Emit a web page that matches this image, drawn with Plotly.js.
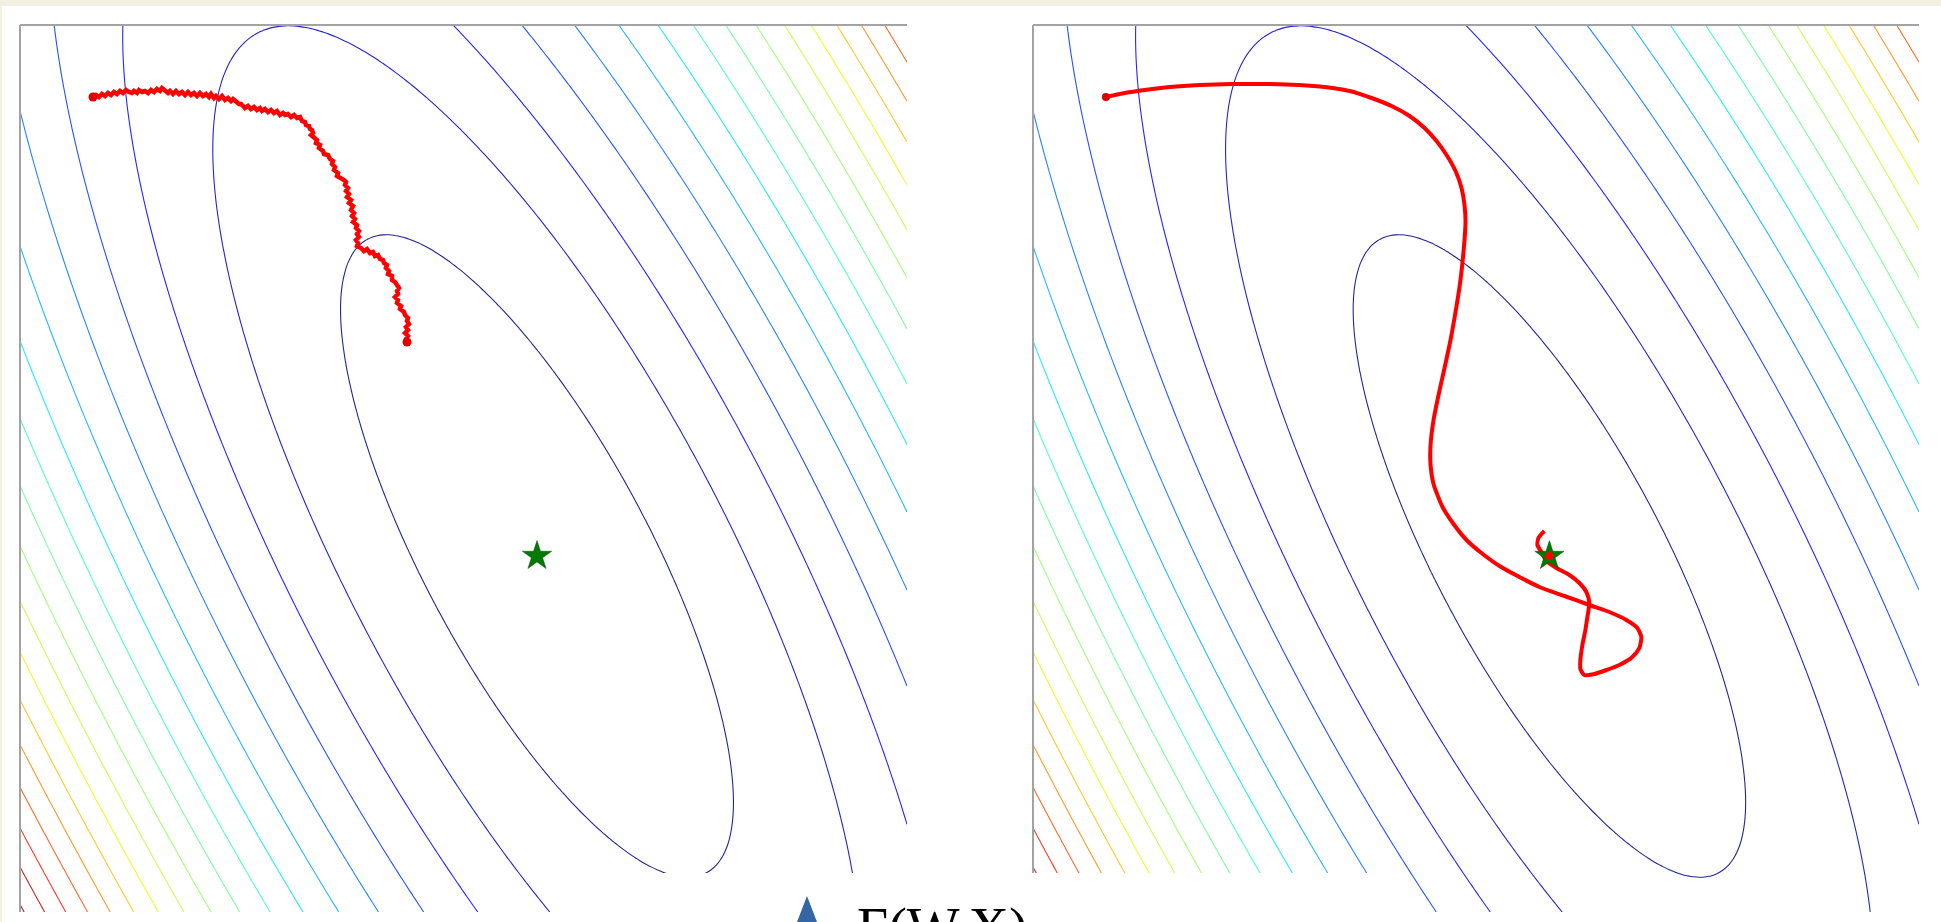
<!DOCTYPE html>
<html><head><meta charset="utf-8">
<script src="https://cdn.plot.ly/plotly-3.0.1.min.js"></script>
<style>html,body{margin:0;padding:0;background:#fff;overflow:hidden}#chart{width:1941px;height:922px}</style>
</head><body><div id="chart"></div>
<script>
// ---- data (units: pixels of one square panel, origin bottom-left) ----
var panelRange = [0, 887];
var surfaceCenter = [517, 356];              // minimum of the loss surface (green star)
var surfaceCurvature = [1.0, 0.469, 0.374];  // a, b, c  in  a*du^2 + 2*b*du*dv + c*dv^2
var levelStart = 15900;                      // innermost contour level
var levelStep = 27400;                       // spacing between contour levels
var levelCount = 18;                         // number of contour levels

// noisy (stochastic) descent path, left panel
var sgdX = [73,76,79,82,85,88,91,94,97,100,103,106,109,112,114,117,119,122,125,128,131,134,137,140,142,144,145,148,150,153,156,159,162,165,168,171,174,177,180,183,186,189,191,194,196,199,202,205,208,211,213,
  217,219,221,223,225,228,231,234,237,240,242,245,248,251,254,257,260,263,265,268,271,274,277,280,282,285,286,289,290,292,293,291,294,297,296,300,299,303,304,308,310,313,312,315,314,318,317,321,324,326,325,328,326,329,327,331,329,333,331,334,332,335,333,337,336,339,337,339,336,338,337,341,344,347,350,353,355,358,360,363,364,367,366,369,368,372,372,375,377,379,377,378,375,378,377,381,380,384,385,388,387,389,386,388,385,388,386,387];
var sgdY = [815,817,815,818,816,819,817,820,818,821,819,822,820,819,821,819,822,820,821,819,822,820,823,821,824,822,821,819,821,818,821,818,820,817,820,817,819,816,819,816,818,815,818,814,816,813,816,812,814,811,813,
  810,808,808,805,804,806,803,805,802,804,801,803,800,802,799,801,797,799,797,798,795,797,794,795,791,790,787,786,783,782,779,777,775,772,769,767,764,761,758,757,753,751,748,745,742,739,736,734,732,730,727,724,721,718,715,712,709,706,702,699,696,693,690,687,684,681,678,675,672,669,666,664,661,663,659,660,656,657,653,652,649,647,644,641,638,636,632,630,627,624,621,618,615,612,609,606,603,600,597,594,591,588,585,582,579,576,573,570];

// smooth (momentum) descent path, right panel
var momX = [73,92,112,137,167,199,232,266,292,317,339,359,377,392,404,414,423,429,432,433,432,430,427,423,418,412,406,401,398,398,401,410,421,434,449,467,487,507,532,557,577,594,605,609,607,600,587,574,562,552,548,548,550,553,555,557,554,547,537,524,514,509,505,506,509,512];
var momY = [815,819,822,825,827,828,828,827,825,821,814,806,796,784,771,757,741,724,707,690,672,650,625,600,572,544,517,492,467,447,428,405,388,372,359,346,335,325,316,307,300,292,284,275,264,255,247,242,238,237,243,252,267,282,295,309,320,329,337,344,351,360,367,374,378,381];

var optimumX = [517];
var optimumY = [356];

// ---- surface grid built from the parameters above ----
var gridN = 150;
var gridU = [], gridV = [];
for (var i = 0; i < gridN; i++) {
  var t = panelRange[0] + (panelRange[1] - panelRange[0]) * i / (gridN - 1);
  gridU.push(t); gridV.push(t);
}
var Z = [];
for (var j = 0; j < gridN; j++) {
  var row = [];
  var dv = gridV[j] - surfaceCenter[1];
  for (var k = 0; k < gridN; k++) {
    var du = gridU[k] - surfaceCenter[0];
    row.push(surfaceCurvature[0]*du*du + 2*surfaceCurvature[1]*du*dv + surfaceCurvature[2]*dv*dv);
  }
  Z.push(row);
}

// matplotlib "jet"
var jet = [[0,'rgb(0,0,128)'],[0.11,'rgb(0,0,255)'],[0.125,'rgb(0,0,255)'],[0.34,'rgb(0,219,255)'],
  [0.35,'rgb(0,230,247)'],[0.375,'rgb(21,255,226)'],[0.64,'rgb(239,255,8)'],[0.65,'rgb(247,245,0)'],
  [0.66,'rgb(255,236,0)'],[0.89,'rgb(255,19,0)'],[0.91,'rgb(232,0,0)'],[1,'rgb(128,0,0)']];

function contourTrace(xa, ya) {
  return {type:'contour', x:gridU, y:gridV, z:Z, xaxis:xa, yaxis:ya,
    autocontour:false,
    contours:{start:levelStart, end:levelStart + (levelCount-1)*levelStep, size:levelStep, coloring:'lines'},
    colorscale:jet, showscale:false, opacity:0.85,
    line:{width:1.1, smoothing:1}, hoverinfo:'skip'};
}

var red = '#ff0000';
var traces = [
  contourTrace('x','y'),
  contourTrace('x2','y2'),
  {type:'scatter', mode:'lines', x:sgdX, y:sgdY, xaxis:'x', yaxis:'y',
   line:{color:red, width:4.5}, hoverinfo:'skip'},
  {type:'scatter', mode:'markers', x:[sgdX[0], sgdX[sgdX.length-1]], y:[sgdY[0], sgdY[sgdY.length-1]],
   xaxis:'x', yaxis:'y', marker:{color:'#e00000', size:9}, hoverinfo:'skip'},
  {type:'scatter', mode:'markers', x:optimumX, y:optimumY, xaxis:'x', yaxis:'y',
   marker:{symbol:'star', color:'#007a00', size:22, line:{color:'#005000', width:0.5}}, hoverinfo:'skip'},
  {type:'scatter', mode:'lines', x:momX, y:momY, xaxis:'x2', yaxis:'y2',
   line:{color:red, width:4, shape:'spline', smoothing:0.6}, hoverinfo:'skip'},
  {type:'scatter', mode:'markers', x:[momX[0]], y:[momY[0]], xaxis:'x2', yaxis:'y2',
   marker:{color:'#e00000', size:8}, hoverinfo:'skip'},
  {type:'scatter', mode:'markers', x:optimumX, y:optimumY, xaxis:'x2', yaxis:'y2',
   marker:{symbol:'star', color:'#007a00', size:22, line:{color:'#005000', width:0.5}}, hoverinfo:'skip'},
  {type:'scatter', mode:'markers', x:optimumX, y:optimumY, xaxis:'x2', yaxis:'y2',
   marker:{color:'#ff0000', size:8}, hoverinfo:'skip'}
];

var W = 1941, H = 922;
function px(x){return x/W;}
function py(y){return 1 - y/H;}
var ax = {range:panelRange, showgrid:false, zeroline:false, showticklabels:false, ticks:'', showline:false, fixedrange:true};
function axis(extra){ var o = {}; for (var k in ax) o[k]=ax[k]; for (var k2 in extra) o[k2]=extra[k2]; return o; }

var spine = {color:'#a3a3a3', width:2};
var layout = {
  width:W, height:H, margin:{l:0,r:0,t:0,b:0},
  paper_bgcolor:'#ffffff', plot_bgcolor:'#ffffff', showlegend:false,
  xaxis: axis({domain:[px(20), px(907)], anchor:'y'}),
  yaxis: axis({domain:[py(912), py(25)], anchor:'x'}),
  xaxis2: axis({domain:[px(1033), px(1919)], anchor:'y2'}),
  yaxis2: axis({domain:[py(912), py(25)], anchor:'x2'}),
  shapes:[
    {type:'rect', xref:'paper', yref:'paper', x0:0, x1:1, y0:py(6), y1:1.01, fillcolor:'#f3f0e1', line:{width:0}, layer:'above'},
    {type:'rect', xref:'paper', yref:'paper', x0:-0.01, x1:px(2), y0:-0.01, y1:1.01, fillcolor:'#f3f0e1', line:{width:0}, layer:'above'},
    {type:'line', xref:'paper', yref:'paper', x0:px(20), x1:px(907), y0:py(25), y1:py(25), line:spine, layer:'above'},
    {type:'line', xref:'paper', yref:'paper', x0:px(20), x1:px(20), y0:py(912), y1:py(25), line:spine, layer:'above'},
    {type:'line', xref:'paper', yref:'paper', x0:px(1033), x1:px(1919), y0:py(25), y1:py(25), line:spine, layer:'above'},
    {type:'line', xref:'paper', yref:'paper', x0:px(1033), x1:px(1033), y0:py(912), y1:py(25), line:spine, layer:'above'},
    {type:'rect', xref:'paper', yref:'paper', x0:px(560), x1:px(1400), y0:-0.05, y1:py(873), fillcolor:'#ffffff', line:{width:0}, layer:'above'},
    {type:'path', xref:'paper', yref:'paper', path:'M '+px(807)+','+py(896)+' L '+px(792)+','+py(935)+' L '+px(822)+','+py(935)+' Z',
     fillcolor:'#3465a4', line:{width:0}, layer:'above'}
  ],
  annotations:[
    {text:'F(W,X)', xref:'paper', yref:'paper', x:px(855), y:py(895), xanchor:'left', yanchor:'top',
     showarrow:false, font:{family:'Liberation Serif, Times New Roman, serif', size:56, color:'#000000'}}
  ]
};

Plotly.newPlot('chart', traces, layout, {staticPlot:true, displayModeBar:false});
</script>
</body></html>
